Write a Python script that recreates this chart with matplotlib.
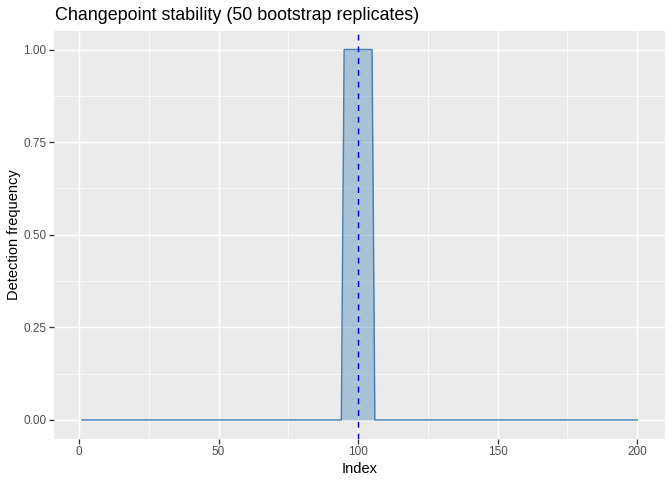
import matplotlib
matplotlib.use("Agg")
import matplotlib.pyplot as plt
from matplotlib.ticker import MultipleLocator

plt.rcParams["font.family"] = ["Liberation Sans", "DejaVu Sans"]

# detection frequency per index over 50 bootstrap replicates
index = list(range(1, 201))
freq = [0.0] * 94 + [1.0] * 11 + [0.0] * 95
true_cp = 100

fig = plt.figure(figsize=(7, 5), dpi=96)
ax = fig.add_axes([54 / 672, 1 - 438.5 / 480, (665 - 54) / 672, (438.5 - 31) / 480])
ax.set_facecolor("#EBEBEB")
for s in ax.spines.values():
    s.set_visible(False)

ax.fill_between(index, freq, 0, color="steelblue", alpha=0.4, linewidth=0, zorder=2)
ax.plot(index, freq, color="steelblue", linewidth=1.1, zorder=3)
ax.axvline(true_cp, color="blue", linestyle=(0, (4, 4)), linewidth=1.1, zorder=4)

ax.set_xlim(1 - 0.05 * 199, 200 + 0.05 * 199)
ax.set_ylim(-0.05, 1.05)
ax.xaxis.set_major_locator(MultipleLocator(50))
ax.xaxis.set_minor_locator(MultipleLocator(25))
ax.yaxis.set_minor_locator(MultipleLocator(0.125))
ax.set_yticks([0, 0.25, 0.5, 0.75, 1.0])
ax.set_yticklabels(["0.00", "0.25", "0.50", "0.75", "1.00"])
ax.grid(which="major", color="white", linewidth=1.1, zorder=0)
ax.grid(which="minor", color="white", linewidth=0.5, zorder=0)
ax.set_axisbelow(True)
ax.tick_params(which="major", length=3.5, width=1, color="#333333",
               labelsize=8.8, labelcolor="#4D4D4D", pad=2)
ax.tick_params(which="minor", length=0)

ax.set_xlabel("Index", fontsize=11, labelpad=3)
ax.set_ylabel("Detection frequency", fontsize=11, labelpad=2)
fig.text(55 / 672, 1 - 15 / 480, "Changepoint stability (50 bootstrap replicates)",
         fontsize=13.4, va="center", ha="left")

fig.savefig("out.png", dpi=96)
